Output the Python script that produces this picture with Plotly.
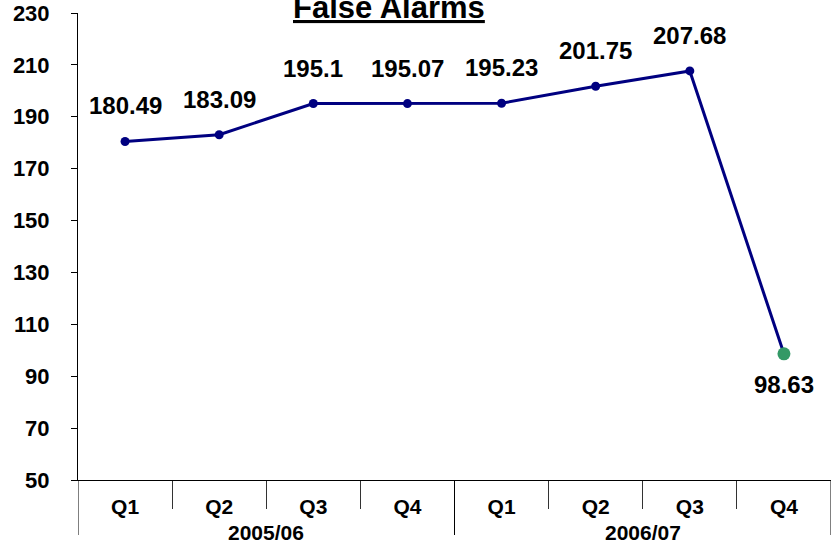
import plotly.graph_objects as go

# ---- data ----
years = ["2005/06", "2006/07"]
quarters = ["Q1", "Q2", "Q3", "Q4"]
values = [180.49, 183.09, 195.1, 195.07, 195.23, 201.75, 207.68, 98.63]
y_ticks = [50, 70, 90, 110, 130, 150, 170, 190, 210, 230]
title_text = "False Alarms"

cats = [(y, q) for y in years for q in quarters]
xs = list(range(len(cats)))
qlabels = [c[1] for c in cats]

FONT = "Liberation Sans, Arial, sans-serif"
navy = "#000080"
green = "#339966"

marker_colors = [navy] * (len(values) - 1) + [green]
marker_sizes = [9] * (len(values) - 1) + [13]

fig = go.Figure()
fig.add_trace(go.Scatter(
    x=xs, y=values, mode="lines+markers",
    line=dict(color=navy, width=3),
    marker=dict(color=marker_colors, size=marker_sizes, opacity=1, line=dict(width=0)),
    hoverinfo="skip", showlegend=False,
))

annotations = []
for i, v in enumerate(values):
    below = (i == len(values) - 1)
    annotations.append(dict(
        x=xs[i], y=v, xref="x", yref="y", text=f"{v:g}", showarrow=False,
        yanchor="top" if below else "bottom",
        yshift=-15 if below else 20,
        font=dict(family=FONT, size=24, color="black", weight="bold"),
    ))

# group labels and long divider ticks
boundaries = [-0.5]
n = len(quarters)
shapes = []
for gi, yr in enumerate(years):
    start = gi * n - 0.5
    end = start + n
    center = (start + end) / 2
    annotations.append(dict(
        x=center, y=-52 / 467, xref="x", yref="paper", text=yr, showarrow=False,
        yanchor="middle", xanchor="center",
        font=dict(family=FONT, size=21, color="black", weight="bold"),
    ))
    boundaries.append(end)
for b in boundaries:
    shapes.append(dict(type="line", xref="x", yref="paper", x0=b, x1=b,
                       y0=0, y1=-55 / 467, line=dict(color="black", width=1)))

annotations.append(dict(
    x=(389 - 78) / 753, y=(480 - 27) / 467, xref="paper", yref="paper",
    text=f"<u>{title_text}</u>", showarrow=False, xanchor="center", yanchor="bottom",
    font=dict(family=FONT, size=31, color="black", weight="bold"),
))

fig.update_layout(
    width=832, height=547,
    margin=dict(l=78, r=1, t=13, b=67),
    paper_bgcolor="white", plot_bgcolor="white",
    annotations=annotations, shapes=shapes,
    xaxis=dict(
        range=[-0.5, len(cats) - 0.5], tickvals=xs, ticktext=qlabels,
        ticks="", showgrid=False, zeroline=False,
        showline=True, linecolor="black", linewidth=1,
        ticklabelstandoff=8,
        tickfont=dict(family=FONT, size=21, color="black", weight="bold"),
        minor=dict(tickvals=[x + 0.5 for x in xs[:-1]], ticks="outside",
                   ticklen=28, tickcolor="#333333", tickwidth=1, showgrid=False),
    ),
    yaxis=dict(
        range=[y_ticks[0], y_ticks[-1]], tickvals=y_ticks,
        ticks="outside", ticklen=6, tickcolor="black", tickwidth=1,
        showgrid=False, zeroline=False,
        showline=True, linecolor="black", linewidth=1,
        ticklabelstandoff=17,
        tickfont=dict(family=FONT, size=22, color="black", weight="bold"),
    ),
)

fig.write_html(
    "out.html",
    config={"displayModeBar": False},
    post_script="document.body.style.margin='0';document.body.style.padding='0';",
)
